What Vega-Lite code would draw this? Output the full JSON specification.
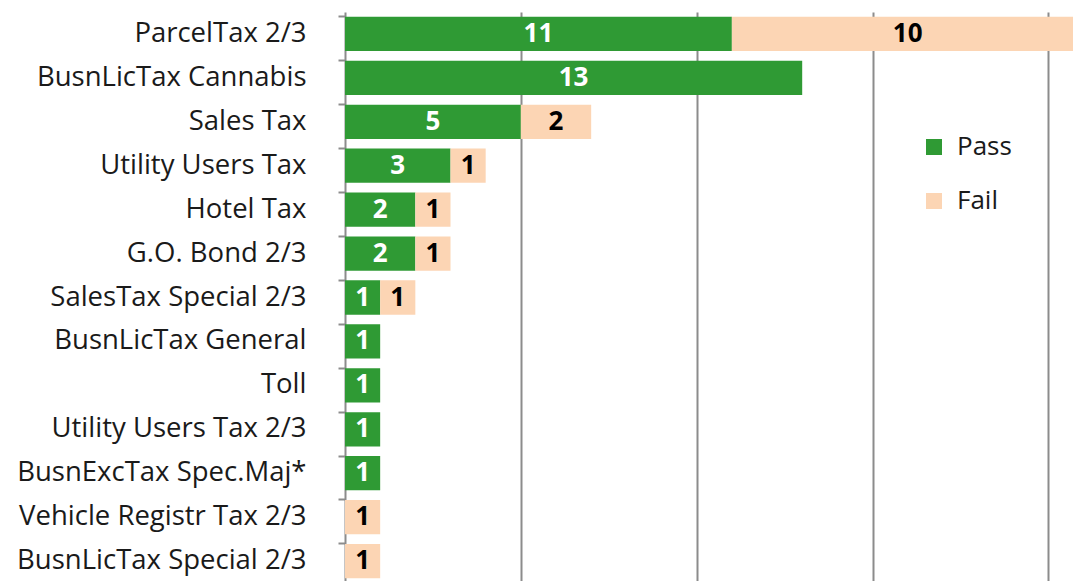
{
  "$schema": "https://vega.github.io/schema/vega-lite/v6.json",
  "autosize": "none",
  "padding": {"left": 345, "top": 12, "right": 0, "bottom": 0},
  "width": 728,
  "height": 571,
  "background": "white",
  "config": {"view": {"stroke": null}, "font": "Open Sans"},
  "data": {"values": [
    {"cat": "ParcelTax 2/3", "status": "Pass", "ord": 1, "n": 11},
    {"cat": "ParcelTax 2/3", "status": "Fail", "ord": 2, "n": 10},
    {"cat": "BusnLicTax Cannabis", "status": "Pass", "ord": 1, "n": 13},
    {"cat": "Sales Tax", "status": "Pass", "ord": 1, "n": 5},
    {"cat": "Sales Tax", "status": "Fail", "ord": 2, "n": 2},
    {"cat": "Utility Users Tax", "status": "Pass", "ord": 1, "n": 3},
    {"cat": "Utility Users Tax", "status": "Fail", "ord": 2, "n": 1},
    {"cat": "Hotel Tax", "status": "Pass", "ord": 1, "n": 2},
    {"cat": "Hotel Tax", "status": "Fail", "ord": 2, "n": 1},
    {"cat": "G.O. Bond 2/3", "status": "Pass", "ord": 1, "n": 2},
    {"cat": "G.O. Bond 2/3", "status": "Fail", "ord": 2, "n": 1},
    {"cat": "SalesTax Special 2/3", "status": "Pass", "ord": 1, "n": 1},
    {"cat": "SalesTax Special 2/3", "status": "Fail", "ord": 2, "n": 1},
    {"cat": "BusnLicTax General", "status": "Pass", "ord": 1, "n": 1},
    {"cat": "Toll", "status": "Pass", "ord": 1, "n": 1},
    {"cat": "Utility Users Tax 2/3", "status": "Pass", "ord": 1, "n": 1},
    {"cat": "BusnExcTax Spec.Maj*", "status": "Pass", "ord": 1, "n": 1},
    {"cat": "Vehicle Registr Tax 2/3", "status": "Fail", "ord": 2, "n": 1},
    {"cat": "BusnLicTax Special 2/3", "status": "Fail", "ord": 2, "n": 1}
  ]},
  "transform": [
    {"stack": "n", "groupby": ["cat"], "sort": [{"field": "ord"}], "as": ["x0", "x1"]},
    {"calculate": "(datum.x0 + datum.x1) / 2", "as": "mid"}
  ],
  "encoding": {
    "y": {
      "field": "cat", "type": "nominal",
      "sort": ["ParcelTax 2/3", "BusnLicTax Cannabis", "Sales Tax", "Utility Users Tax", "Hotel Tax", "G.O. Bond 2/3", "SalesTax Special 2/3", "BusnLicTax General", "Toll", "Utility Users Tax 2/3", "BusnExcTax Spec.Maj*", "Vehicle Registr Tax 2/3", "BusnLicTax Special 2/3"],
      "scale": {"paddingInner": 0.22, "paddingOuter": 0.11},
      "axis": {
        "title": null, "bandPosition": 0, "tickSize": 7, "tickWidth": 2,
        "tickColor": "#8c8c8c", "domainColor": "#8c8c8c", "domainWidth": 2,
        "labelFontSize": 27.5, "labelColor": "#1a1a1a", "labelPadding": 32,
        "labelFont": "Open Sans", "labelLimit": 400
      }
    }
  },
  "layer": [
    {
      "mark": {"type": "bar", "clip": true},
      "encoding": {
        "x": {
          "field": "x0", "type": "quantitative",
          "scale": {"domain": [0, 20.7], "nice": false},
          "axis": {
            "title": null, "values": [5, 10, 15, 20], "labels": false, "ticks": false,
            "domain": false, "grid": true, "gridColor": "#8c8c8c", "gridWidth": 2
          }
        },
        "x2": {"field": "x1"},
        "color": {
          "field": "status", "type": "nominal",
          "scale": {"domain": ["Pass", "Fail"], "range": ["#2f9a34", "#fcd5b4"]},
          "legend": {
            "title": null, "orient": "none", "legendX": 576, "legendY": 122,
            "symbolType": "square", "symbolSize": 256, "symbolStrokeWidth": 0,
            "labelFontSize": 26, "labelColor": "#1a1a1a", "labelFont": "Open Sans",
            "rowPadding": 28, "labelOffset": 10
          }
        }
      }
    },
    {
      "mark": {"type": "text", "fontSize": 26, "fontWeight": "bold", "font": "Open Sans", "align": "center", "baseline": "middle", "clip": true},
      "encoding": {
        "x": {"field": "mid", "type": "quantitative"},
        "text": {"field": "n", "type": "quantitative"},
        "color": {
          "condition": {"test": "datum.status === 'Pass'", "value": "white"},
          "value": "black"
        }
      }
    }
  ]
}
